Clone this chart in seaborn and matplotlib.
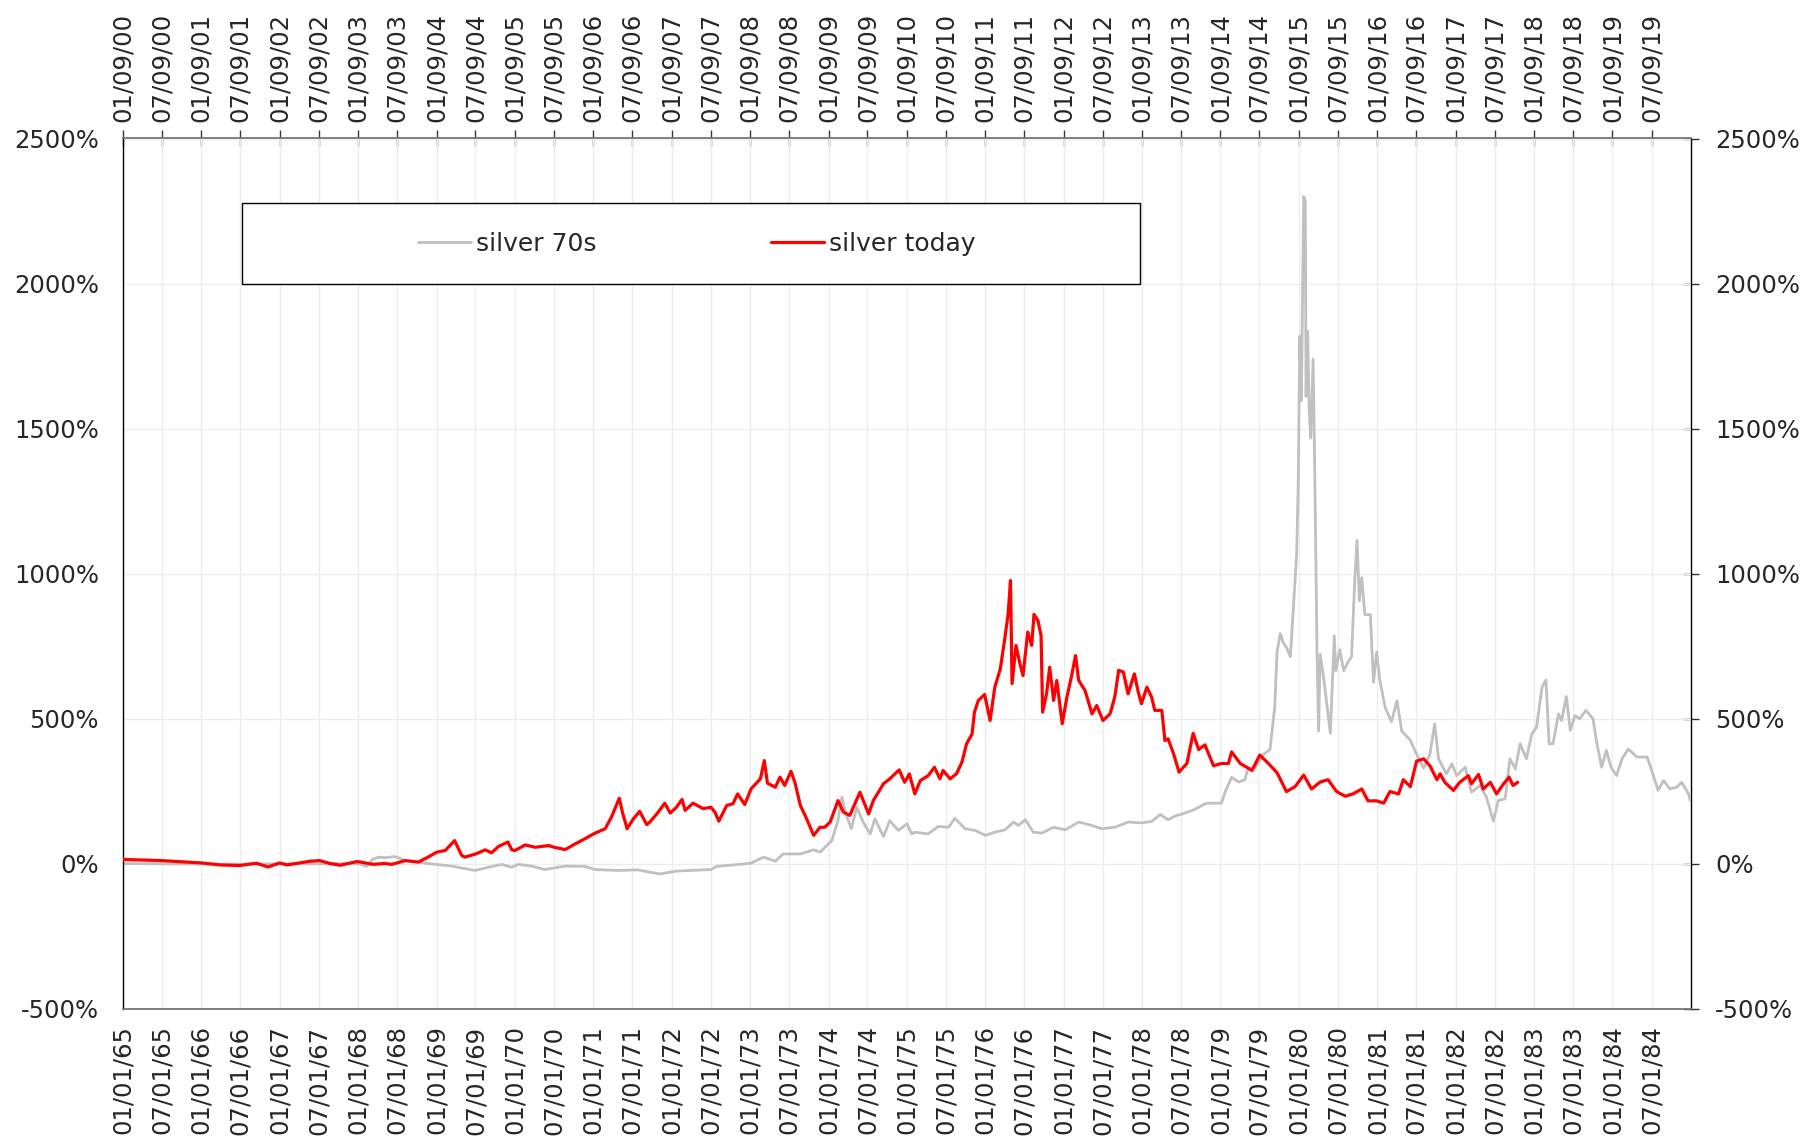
import numpy as np
import pandas as pd
import matplotlib
matplotlib.use("Agg")
import matplotlib.pyplot as plt
import matplotlib.dates as mdates
from matplotlib.ticker import PercentFormatter
from matplotlib.patches import Rectangle
import seaborn as sns

# ---------------- data ----------------
series_names = ["silver 70s", "silver today"]
series_colors = ["#c0c0c0", "#ff0000"]

silver70s_year = [
    1965.00, 1965.50, 1966.00, 1966.50, 1967.00, 1967.50, 1967.90, 1968.02, 1968.11, 1968.19, 1968.27,
    1968.34, 1968.47, 1968.60, 1968.77, 1968.89, 1969.19, 1969.49, 1969.66, 1969.83, 1969.96, 1970.04,
    1970.21, 1970.38, 1970.64, 1970.89, 1971.02, 1971.32, 1971.57,
    1971.72, 1971.85, 1972.06, 1972.50, 1972.57, 1972.78, 1973.01, 1973.17, 1973.32, 1973.42, 1973.64,
    1973.81, 1973.89, 1974.04, 1974.12, 1974.17, 1974.22, 1974.29, 1974.36, 1974.44, 1974.53, 1974.59,
    1974.70, 1974.78, 1974.89, 1975.00, 1975.06,
    1975.10, 1975.27, 1975.40, 1975.53, 1975.61, 1975.74, 1975.87, 1976.00, 1976.12, 1976.25, 1976.36,
    1976.42, 1976.51, 1976.61, 1976.72, 1976.87, 1977.02, 1977.19, 1977.36, 1977.48, 1977.65, 1977.82,
    1977.99, 1978.12, 1978.23, 1978.33, 1978.44,
    1978.48, 1978.65, 1978.82, 1979.01, 1979.06, 1979.14, 1979.23, 1979.31, 1979.35, 1979.44, 1979.55,
    1979.63, 1979.69, 1979.72, 1979.76, 1979.80, 1979.84, 1979.89, 1979.93, 1979.97, 1979.99, 1980.01,
    1980.03, 1980.06, 1980.08, 1980.09, 1980.11, 1980.13, 1980.15, 1980.18, 1980.20, 1980.23, 1980.25,
    1980.27, 1980.31, 1980.35, 1980.40, 1980.45, 1980.47, 1980.52, 1980.57, 1980.63, 1980.67, 1980.71,
    1980.74, 1980.77, 1980.80, 1980.84, 1980.91, 1980.95, 1980.99, 1981.03, 1981.10, 1981.18, 1981.25,
    1981.31, 1981.42, 1981.50, 1981.59, 1981.67, 1981.73, 1981.78,
    1981.88, 1981.95, 1982.01, 1982.12, 1982.20, 1982.31, 1982.39, 1982.48, 1982.54, 1982.63, 1982.69,
    1982.76, 1982.82, 1982.90, 1982.97, 1983.03, 1983.10, 1983.15, 1983.19, 1983.24, 1983.31, 1983.35,
    1983.41, 1983.46, 1983.52, 1983.58, 1983.66, 1983.75, 1983.80, 1983.86, 1983.92, 1983.98, 1984.05,
    1984.12, 1984.20, 1984.31, 1984.44, 1984.52, 1984.58, 1984.65, 1984.73, 1984.82, 1984.88, 1984.97,
    1984.99,
]
silver70s_pct = [
    0, -1, -2, -2, -1, -1, 0, -2, -10, 16, 22,
    20, 24, 10, 5, 0, -9, -24, -13, -3, -13, -3,
    -9, -21, -9, -10, -21, -24, -22,
    -30, -36, -26, -21, -10, -5, 1, 22, 8, 33, 33,
    47, 39, 79, 148, 229, 171, 120, 194, 143, 102, 154,
    93, 148, 114, 137, 102,
    108, 102, 128, 125, 156, 120, 114, 97, 108, 116, 143,
    131, 151, 108, 105, 125, 116, 143, 131, 120, 125, 143,
    140, 145, 169, 151, 166,
    168, 184, 208, 208, 248, 297, 281, 289, 329, 329, 377,
    393, 537, 729, 793, 761, 745, 713, 890, 1066, 1306, 1819,
    1595, 2300, 2284, 1611, 1835, 1563, 1467, 1739, 1371, 729, 457,
    721, 649, 561, 449, 785, 665, 737, 665, 697, 713, 970,
    1114, 906, 986, 858, 858, 625, 729, 633, 537, 489, 561,
    457, 425, 377, 329, 377, 481, 361,
    309, 344, 303, 332, 246, 269, 229, 146, 217, 223, 361,
    326, 413, 361, 447, 470, 608, 633, 413, 413, 516, 493,
    576, 459, 510, 499, 528, 499, 413, 332, 390, 332, 303,
    361, 395, 367, 367, 303, 252, 286, 257, 263, 280, 240,
    217,
]

silver_today_year = [
    1965.00, 1965.49, 1966.00, 1966.24, 1966.49, 1966.70, 1966.85, 1967.00, 1967.09, 1967.39, 1967.51,
    1967.64, 1967.77, 1967.99, 1968.19,
    1968.34, 1968.43, 1968.60, 1968.77, 1968.89, 1969.00, 1969.11, 1969.23, 1969.32, 1969.36, 1969.50,
    1969.62, 1969.70, 1969.79, 1969.91, 1969.96, 1970.00, 1970.13, 1970.26, 1970.43, 1970.50, 1970.64,
    1970.77, 1970.89, 1971.00, 1971.15, 1971.23, 1971.33, 1971.37, 1971.43, 1971.51, 1971.59, 1971.68,
    1971.72, 1971.81, 1971.91, 1971.98, 1972.06, 1972.13, 1972.17, 1972.27, 1972.40, 1972.50, 1972.55,
    1972.60, 1972.70, 1972.78, 1972.84, 1972.93, 1973.01, 1973.13, 1973.18, 1973.22, 1973.32, 1973.38,
    1973.44, 1973.52, 1973.57, 1973.64, 1973.71, 1973.81, 1973.89, 1973.95, 1974.02, 1974.12, 1974.19,
    1974.27, 1974.40, 1974.51, 1974.57, 1974.70, 1974.78, 1974.90, 1974.97, 1975.03,
    1975.10, 1975.17, 1975.27, 1975.35, 1975.42, 1975.46, 1975.55, 1975.63, 1975.70, 1975.76, 1975.83,
    1975.86, 1975.91, 1975.99, 1976.06, 1976.12, 1976.19, 1976.25, 1976.29, 1976.32, 1976.34, 1976.39,
    1976.44, 1976.48, 1976.54, 1976.59, 1976.62, 1976.67, 1976.71, 1976.73, 1976.78, 1976.82, 1976.87,
    1976.91, 1976.98, 1977.04, 1977.10, 1977.15, 1977.19, 1977.27, 1977.36, 1977.42, 1977.50, 1977.59,
    1977.65, 1977.70, 1977.76, 1977.82, 1977.90, 1977.95, 1977.99, 1978.06, 1978.12, 1978.16, 1978.25,
    1978.29, 1978.33, 1978.40, 1978.47,
    1978.57, 1978.65, 1978.72, 1978.80, 1978.91, 1979.01, 1979.10, 1979.14, 1979.25, 1979.40, 1979.50,
    1979.61, 1979.72, 1979.84, 1979.95, 1980.06, 1980.16, 1980.27, 1980.37, 1980.48, 1980.59, 1980.69,
    1980.80, 1980.88, 1980.99, 1981.08, 1981.16, 1981.27, 1981.33, 1981.42, 1981.50, 1981.59, 1981.67,
    1981.76,
    1981.80, 1981.86, 1981.97, 1982.05, 1982.16, 1982.20, 1982.29, 1982.35, 1982.44, 1982.52, 1982.61,
    1982.68, 1982.73, 1982.79,
]
silver_today_pct = [
    14, 10, 2, -5, -7, 1, -12, 2, -5, 8, 10,
    0, -6, 7, -3,
    0, -3, 10, 5, 22, 39, 45, 79, 28, 22, 33,
    47, 37, 59, 74, 47, 45, 64, 56, 62, 56, 48,
    68, 85, 102, 120, 160, 225, 177, 120, 154, 180, 134,
    143, 171, 208, 174, 194, 221, 183, 208, 189, 194, 177,
    146, 200, 206, 240, 203, 257, 292, 355, 277, 263, 298,
    269, 318, 280, 200, 160, 97, 125, 125, 143, 217, 177,
    166, 246, 171, 217, 275, 292, 323, 280, 309,
    240, 286, 303, 332, 292, 321, 292, 309, 349, 413, 447,
    522, 562, 583, 493, 608, 671, 780, 861, 976, 620, 752,
    689, 648, 798, 752, 859, 838, 786, 522, 585, 677, 562,
    631, 482, 574, 648, 717, 631, 597, 516, 545, 493, 516,
    574, 666, 660, 585, 654, 591, 551, 608, 574, 528, 528,
    424, 430, 378, 315,
    345, 449, 393, 409, 337, 345, 345, 385, 345, 321, 374,
    345, 313, 248, 265, 305, 257, 281, 289, 248, 232, 240,
    257, 216, 216, 208, 248, 240, 289, 265, 353, 361, 337,
    289,
    309, 280, 252, 280, 303, 275, 307, 257, 280, 240, 275,
    298, 269, 280,
]

y_ticks = [-500, 0, 500, 1000, 1500, 2000, 2500]
top_tick_labels = [f"{m}/09/{yy:02d}" for yy in range(0, 20) for m in ("01", "07")]
x_start, x_end = "1965-01-01", "1985-01-01"


def to_dates(years):
    years = np.asarray(years, dtype=float)
    return pd.Timestamp("1965-01-01") + pd.to_timedelta((years - 1965.0) * 365.25, unit="D")


df = pd.concat([
    pd.DataFrame({"date": to_dates(silver70s_year), "pct": silver70s_pct, "series": series_names[0]}),
    pd.DataFrame({"date": to_dates(silver_today_year), "pct": silver_today_pct, "series": series_names[1]}),
], ignore_index=True)

# ---------------- style ----------------
sns.set_style("white")
plt.rcParams["font.family"] = ["DejaVu Sans"]
plt.rcParams["axes.unicode_minus"] = False
FS = 17.5

fig = plt.figure(figsize=(18.05, 11.41), dpi=100)
L, R, T, B = 123 / 1805, 1691 / 1805, 1 - 138.5 / 1141, 1 - 1008.5 / 1141
ax = fig.add_axes([L, B, R - L, T - B])

sns.lineplot(data=df, x="date", y="pct", hue="series", hue_order=series_names,
             palette=series_colors, estimator=None, sort=False, legend=False, ax=ax)
ax.lines[0].set_linewidth(2.0)
ax.lines[1].set_linewidth(2.3)
ax.lines[1].set_zorder(3)

ax.set_xlim(pd.Timestamp(x_start), pd.Timestamp(x_end))
ax.set_ylim(y_ticks[0], y_ticks[-1])
ax.set_xlabel("")
ax.set_ylabel("")

tick_dates = pd.date_range("1965-01-01", "1984-07-01", freq="6MS")
ax.set_xticks(tick_dates)
ax.xaxis.set_major_formatter(mdates.DateFormatter("%m/%d/%y"))
ax.set_yticks(y_ticks)
ax.yaxis.set_major_formatter(PercentFormatter(xmax=100, decimals=0))

ax.grid(True, color="#ececec", linewidth=0.9)
ax.set_axisbelow(True)

ax.tick_params(axis="x", direction="out", length=5.8, width=1, color="#333333",
               pad=6.4, labelsize=FS, labelrotation=90)
ax.tick_params(axis="y", direction="out", length=5.8, width=1, color="#333333",
               pad=11.5, labelsize=FS)

for side in ("left",):
    ax.spines[side].set_color("black")
    ax.spines[side].set_linewidth(1.0)
ax.spines["bottom"].set_color("#777777")
ax.spines["bottom"].set_linewidth(1.3)
ax.spines["top"].set_visible(False)
ax.spines["right"].set_visible(False)

# top axis (second date scale)
top = ax.secondary_xaxis("top")
top.set_xticks(mdates.date2num(tick_dates.to_pydatetime()), labels=top_tick_labels)
top.tick_params(direction="inout", length=11.5, width=1, color="#333333",
                pad=6.4, labelsize=FS, labelrotation=90)
top.spines["top"].set_color("#777777")
top.spines["top"].set_linewidth(1.3)

# right axis
right = ax.secondary_yaxis("right")
right.set_yticks(y_ticks)
right.yaxis.set_major_formatter(PercentFormatter(xmax=100, decimals=0))
right.tick_params(direction="inout", length=11.5, width=1, color="#333333",
                  pad=11.5, labelsize=FS)
right.spines["right"].set_color("black")
right.spines["right"].set_linewidth(1.0)

# legend box
ax.add_patch(Rectangle((0.0757, 0.8331), 0.5726, 0.0926, transform=ax.transAxes,
                       facecolor="white", edgecolor="black", linewidth=1.0, zorder=4))
ax.legend(handles=[ax.lines[0], ax.lines[1]], labels=series_names, ncol=2,
          loc="center", bbox_to_anchor=(0.366, 0.879), frameon=False, fontsize=FS + 0.5,
          handlelength=2.1, handletextpad=0.2, columnspacing=7.0).set_zorder(5)

fig.savefig("out.png", dpi=100)
